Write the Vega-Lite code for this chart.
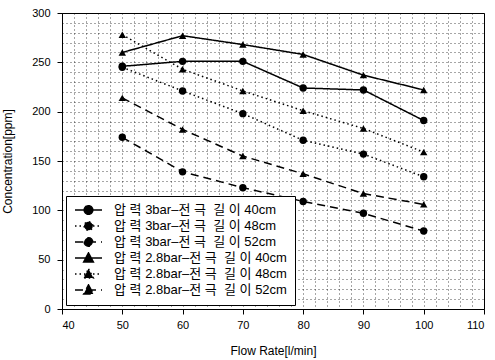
{
  "$schema": "https://vega.github.io/schema/vega-lite/v6.json",
  "width": 422,
  "height": 296,
  "autosize": {"type": "none"},
  "padding": {"left": 62, "top": 13, "right": 11, "bottom": 51},
  "config": {
    "view": {"stroke": "black", "strokeWidth": 1},
    "font": "Liberation Sans"
  },
  "data": {
    "values": [
      {"x": 50, "y": 246, "series": "압 력 3bar–전 극 길 이 40cm"},
      {"x": 60, "y": 251, "series": "압 력 3bar–전 극 길 이 40cm"},
      {"x": 70, "y": 251, "series": "압 력 3bar–전 극 길 이 40cm"},
      {"x": 80, "y": 224, "series": "압 력 3bar–전 극 길 이 40cm"},
      {"x": 90, "y": 222, "series": "압 력 3bar–전 극 길 이 40cm"},
      {"x": 100, "y": 191, "series": "압 력 3bar–전 극 길 이 40cm"},
      {"x": 50, "y": 245, "series": "압 력 3bar–전 극 길 이 48cm"},
      {"x": 60, "y": 221, "series": "압 력 3bar–전 극 길 이 48cm"},
      {"x": 70, "y": 198, "series": "압 력 3bar–전 극 길 이 48cm"},
      {"x": 80, "y": 171, "series": "압 력 3bar–전 극 길 이 48cm"},
      {"x": 90, "y": 157, "series": "압 력 3bar–전 극 길 이 48cm"},
      {"x": 100, "y": 134, "series": "압 력 3bar–전 극 길 이 48cm"},
      {"x": 50, "y": 174, "series": "압 력 3bar–전 극 길 이 52cm"},
      {"x": 60, "y": 139, "series": "압 력 3bar–전 극 길 이 52cm"},
      {"x": 70, "y": 123, "series": "압 력 3bar–전 극 길 이 52cm"},
      {"x": 80, "y": 109, "series": "압 력 3bar–전 극 길 이 52cm"},
      {"x": 90, "y": 97, "series": "압 력 3bar–전 극 길 이 52cm"},
      {"x": 100, "y": 79, "series": "압 력 3bar–전 극 길 이 52cm"},
      {"x": 50, "y": 260, "series": "압 력 2.8bar–전 극 길 이 40cm"},
      {"x": 60, "y": 277, "series": "압 력 2.8bar–전 극 길 이 40cm"},
      {"x": 70, "y": 268, "series": "압 력 2.8bar–전 극 길 이 40cm"},
      {"x": 80, "y": 258, "series": "압 력 2.8bar–전 극 길 이 40cm"},
      {"x": 90, "y": 237, "series": "압 력 2.8bar–전 극 길 이 40cm"},
      {"x": 100, "y": 222, "series": "압 력 2.8bar–전 극 길 이 40cm"},
      {"x": 50, "y": 278, "series": "압 력 2.8bar–전 극 길 이 48cm"},
      {"x": 60, "y": 243, "series": "압 력 2.8bar–전 극 길 이 48cm"},
      {"x": 70, "y": 221, "series": "압 력 2.8bar–전 극 길 이 48cm"},
      {"x": 80, "y": 201, "series": "압 력 2.8bar–전 극 길 이 48cm"},
      {"x": 90, "y": 183, "series": "압 력 2.8bar–전 극 길 이 48cm"},
      {"x": 100, "y": 159, "series": "압 력 2.8bar–전 극 길 이 48cm"},
      {"x": 50, "y": 214, "series": "압 력 2.8bar–전 극 길 이 52cm"},
      {"x": 60, "y": 182, "series": "압 력 2.8bar–전 극 길 이 52cm"},
      {"x": 70, "y": 155, "series": "압 력 2.8bar–전 극 길 이 52cm"},
      {"x": 80, "y": 137, "series": "압 력 2.8bar–전 극 길 이 52cm"},
      {"x": 90, "y": 117, "series": "압 력 2.8bar–전 극 길 이 52cm"},
      {"x": 100, "y": 106, "series": "압 력 2.8bar–전 극 길 이 52cm"}
    ]
  },
  "encoding": {
    "x": {
      "field": "x", "type": "quantitative",
      "scale": {"domain": [40, 110], "nice": false, "zero": false},
      "axis": {
        "values": [40,42,44,46,48,50,52,54,56,58,60,62,64,66,68,70,72,74,76,78,80,82,84,86,88,90,92,94,96,98,100,102,104,106,108,110],
        "labelExpr": "datum.value % 10 === 0 ? datum.label : ''",
        "labelOverlap": false,
        "grid": true, "gridDash": [1, 3], "gridColor": "black", "gridOpacity": 0.7,
        "tickOpacity": {"condition": {"test": "datum.value % 10 === 0", "value": 1}, "value": 0},
        "tickColor": "black", "tickSize": 5, "domainColor": "black",
        "labelFontSize": 11, "labelColor": "black", "labelPadding": 5,
        "title": "Flow Rate[l/min]", "titleFontSize": 12, "titleFontWeight": "normal",
        "titleColor": "black", "titlePadding": 15
      }
    },
    "y": {
      "field": "y", "type": "quantitative",
      "scale": {"domain": [0, 300], "nice": false},
      "axis": {
        "values": [0,10,20,30,40,50,60,70,80,90,100,110,120,130,140,150,160,170,180,190,200,210,220,230,240,250,260,270,280,290,300],
        "labelExpr": "datum.value % 50 === 0 ? datum.label : ''",
        "labelOverlap": false,
        "grid": true, "gridDash": [1, 3], "gridColor": "black", "gridOpacity": 0.7,
        "tickOpacity": {"condition": {"test": "datum.value % 50 === 0", "value": 1}, "value": 0},
        "tickColor": "black", "tickSize": 5, "domainColor": "black",
        "labelFontSize": 11, "labelColor": "black", "labelPadding": 7,
        "title": "Concentration[ppm]", "titleFontSize": 12, "titleFontWeight": "normal",
        "titleColor": "black", "titlePadding": 17
      }
    }
  },
  "layer": [
    {
      "mark": {"type": "line", "stroke": "black", "strokeWidth": 1.5},
      "encoding": {
        "strokeDash": {
          "field": "series", "type": "nominal",
          "scale": {
            "domain": ["압 력 3bar–전 극 길 이 40cm", "압 력 3bar–전 극 길 이 48cm", "압 력 3bar–전 극 길 이 52cm", "압 력 2.8bar–전 극 길 이 40cm", "압 력 2.8bar–전 극 길 이 48cm", "압 력 2.8bar–전 극 길 이 52cm"],
            "range": [[1, 0], [1.5, 3], [8, 5], [1, 0], [1.5, 3], [8, 5]]
          },
          "legend": {
            "orient": "bottom-left", "offset": 4, "title": null,
            "fillColor": "white", "strokeColor": "black", "padding": 8,
            "labelFont": "Liberation Sans, Noto Sans CJK KR", "labelFontSize": 13,
            "labelColor": "black", "labelLimit": 400,
            "labelExpr": "replace(datum.label, '극 ', '극\u00a0 ')",
            "symbolStrokeColor": "black", "symbolStrokeWidth": 1.5,
            "symbolSize": 100, "labelOffset": 11, "rowPadding": 3,
            "clipHeight": 12,
            "encode": {
              "symbols": {
                "update": {
                  "shape": {"signal": "indexof(datum.value, '2.8bar') >= 0 ? 'M-1,0H1M0,-0.38L0.36,0.3H-0.36Z' : 'M-1,0H1M-0.32,0A0.32,0.32 0 1,0 0.32,0A0.32,0.32 0 1,0 -0.32,0Z'"},
                  "size": {"value": 729},
                  "fill": {"value": "black"},
                  "stroke": {"value": "black"}
                }
              }
            }
          }
        }
      }
    },
    {
      "transform": [{"filter": "indexof(datum.series, '2.8bar') < 0"}],
      "mark": {"type": "point", "shape": "circle", "filled": true, "color": "black", "opacity": 1, "size": 55}
    },
    {
      "transform": [{"filter": "indexof(datum.series, '2.8bar') >= 0"}],
      "mark": {"type": "point", "shape": "triangle-up", "filled": true, "color": "black", "opacity": 1, "size": 55}
    }
  ]
}
